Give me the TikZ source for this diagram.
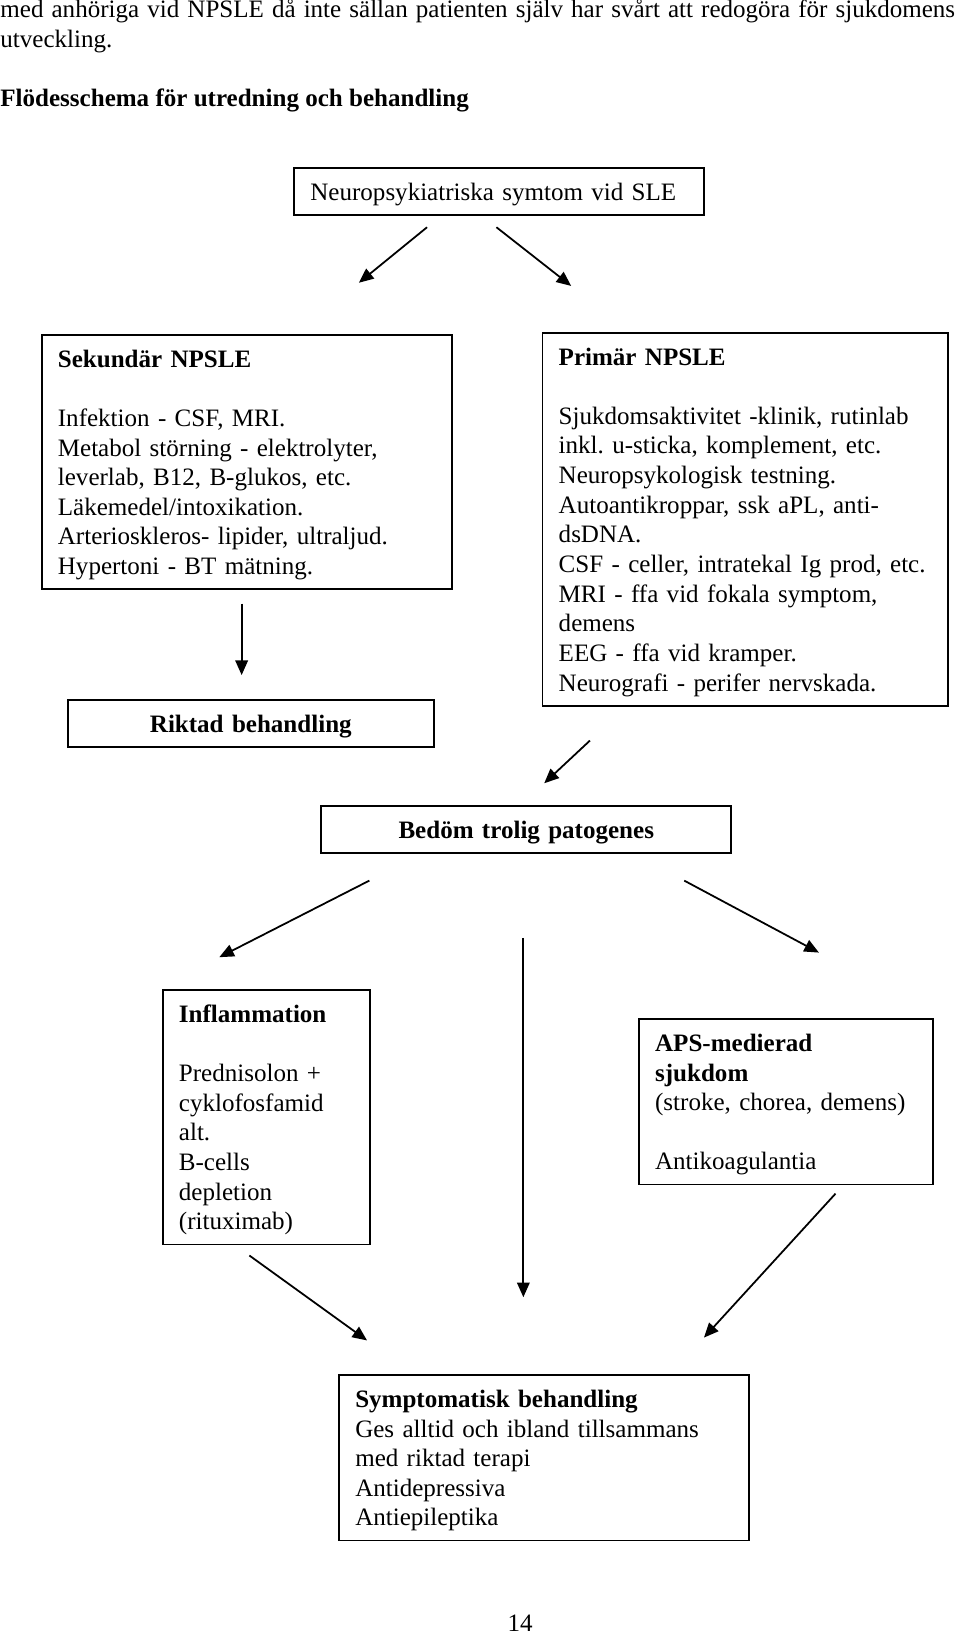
\documentclass[tikz,border=0pt]{standalone}
\usepackage{fontspec}
\setmainfont{Liberation Serif}
\usetikzlibrary{arrows.meta}
\setlength{\parindent}{0pt}
\frenchspacing

\tikzset{
  box/.style={draw, line width=0.9pt, anchor=north west, inner xsep=7.8pt, inner ysep=0pt, align=left,
    execute at begin node={\rule{0pt}{15.5pt}},
    execute at end node={\rule[-7pt]{0pt}{7pt}}},
  cbox/.style={box, align=center, font=\fontsize{12}{14.2}\selectfont\bfseries},
  arr/.style={-{Triangle[length=7pt,width=6pt]}, line width=0.85pt},
  txt/.style={anchor=base west, inner sep=0pt}
}

\begin{document}
\begin{tikzpicture}[x=0.5pt, y=-0.5pt, font=\fontsize{12}{14.2}\selectfont]
\useasboundingbox (0,0) rectangle (920,1568);

% text above the chart
\node[txt] (rad1) at (0,17) {\makebox[457.5pt][s]{med anhöriga vid NPSLE då inte sällan patienten själv har svårt att redogöra för sjukdomens}};
\node[txt] (rad2) at (0,45.4) {utveckling.};
\node[txt, font=\fontsize{12}{14.2}\selectfont\bfseries] (rubrik) at (0,102) {Flödesschema för utredning och behandling};

% boxes
\node[box, text width=180.9pt] (symtom) at (281,160) {Neuropsykiatriska symtom vid SLE};
\node[box, text width=180.9pt] (sek) at (39,320) {\textbf{Sekundär NPSLE}\\[14.2pt]
  Infektion - CSF, MRI.\\ Metabol störning - elektrolyter,\\ leverlab, B12, B-glukos, etc.\\
  Läkemedel/intoxikation.\\ Arterioskleros- lipider, ultraljud.\\ Hypertoni - BT mätning.};
\node[box, text width=178.9pt] (prim) at (519,318) {\textbf{Primär NPSLE}\\[14.2pt]
  Sjukdomsaktivitet -klinik, rutinlab\\ inkl. u-sticka, komplement, etc.\\ Neuropsykologisk testning.\\
  Autoantikroppar, ssk aPL, anti-\\ dsDNA.\\ CSF - celler, intratekal Ig prod, etc.\\
  MRI - ffa vid fokala symptom,\\ demens\\ EEG - ffa vid kramper.\\ Neurografi - perifer nervskada.};
\node[cbox, text width=159.9pt] (riktad) at (64,670) {Riktad behandling};
\node[cbox, text width=180.9pt] (bedom) at (307,772) {Bedöm trolig patogenes};
\node[box, text width=83.9pt] (infl) at (155,948) {\textbf{Inflammation}\\[14.2pt]
  Prednisolon +\\ cyklofosfamid\\ alt.\\ B-cells\\ depletion\\ (rituximab)};
\node[box, text width=125.4pt] (aps) at (611.4,975.8) {\textbf{APS-medierad}\\ \textbf{sjukdom}\\
  (stroke, chorea, demens)\\[14.2pt] Antikoagulantia};
\node[box, text width=180.9pt] (symp) at (324,1317) {\textbf{Symptomatisk behandling}\\
  Ges alltid och ibland tillsammans\\ med riktad terapi\\ Antidepressiva\\ Antiepileptika};
\node[anchor=base, inner sep=0pt] (sida) at (498.6,1564) {14};

% arrow ends
\coordinate (p1) at (409.3,217.8); \coordinate (q1) at (344,271);
\coordinate (p2) at (475.8,217.8); \coordinate (q2) at (547.4,274);
\coordinate (p3) at (231.6,578.5); \coordinate (q3) at (231.6,647);
\coordinate (p4) at (565.4,709.8); \coordinate (q4) at (521.6,750.7);
\coordinate (p5) at (354,844);     \coordinate (q5) at (210.2,917.4);
\coordinate (p6) at (655.8,844);   \coordinate (q6) at (784.9,913);
\coordinate (p7) at (501.6,899);   \coordinate (q7) at (501.6,1243.3);
\coordinate (p8) at (239,1203.3);  \coordinate (q8) at (351.8,1284.7);
\coordinate (p9) at (800.8,1144);  \coordinate (q9) at (674.7,1282);

\foreach \i in {1,...,9}
  \draw[arr] (p\i) -- (q\i);
\end{tikzpicture}
\end{document}
